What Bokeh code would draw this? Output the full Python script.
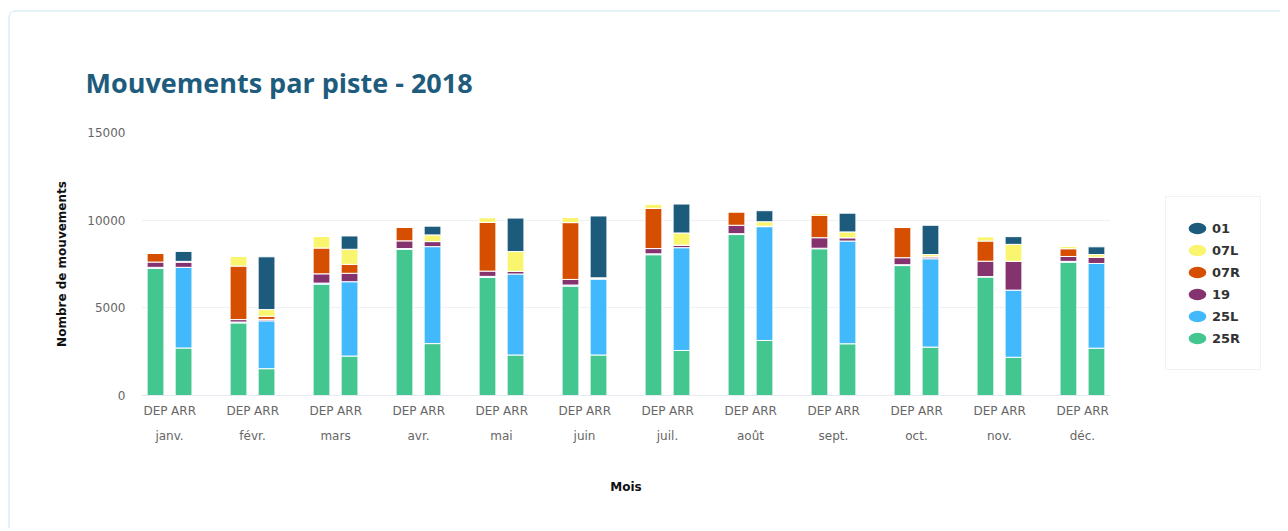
from bokeh.plotting import figure
from bokeh.layouts import row
from bokeh.models import ColumnDataSource, FactorRange, Range1d, Legend, LegendItem, SingleIntervalTicker
from bokeh.embed import file_html
from bokeh.resources import INLINE

months = ["janv.", "févr.", "mars", "avr.", "mai", "juin",
          "juil.", "août", "sept.", "oct.", "nov.", "déc."]
directions = ["DEP", "ARR"]
runways = ["25R", "25L", "19", "07R", "07L", "01"]
colors = ["#43c690", "#41b9fc", "#85336f", "#d64e00", "#f9f56f", "#1c5b7b"]

# Departures per runway, by month
dep_25R = [7250, 4140, 6350, 8340, 6735, 6240, 8030, 9180, 8370, 7410, 6760, 7600]
dep_25L = [60, 50, 60, 40, 60, 60, 50, 50, 30, 50, 20, 50]
dep_19 = [300, 140, 530, 440, 300, 320, 300, 480, 600, 400, 880, 280]
dep_07R = [500, 3050, 1470, 780, 2780, 3240, 2290, 770, 1280, 1720, 1150, 440]
dep_07L = [0, 570, 670, 0, 270, 300, 250, 0, 120, 0, 250, 130]
dep_01 = [0, 0, 0, 0, 0, 0, 0, 0, 0, 0, 0, 0]

# Arrivals per runway, by month
arr_25R = [2710, 1530, 2250, 2960, 2310, 2310, 2570, 3140, 2950, 2760, 2180, 2700]
arr_25L = [4600, 2730, 4240, 5530, 4620, 4330, 5860, 6490, 5860, 5040, 3830, 4830]
arr_19 = [300, 80, 480, 290, 150, 40, 150, 30, 190, 110, 1650, 360]
arr_07R = [20, 180, 510, 0, 0, 0, 0, 0, 0, 0, 0, 0]
arr_07L = [20, 380, 860, 380, 1130, 30, 690, 250, 330, 130, 960, 150]
arr_01 = [570, 3010, 760, 500, 1910, 3530, 1650, 630, 1070, 1670, 440, 440]

dep = {"25R": dep_25R, "25L": dep_25L, "19": dep_19, "07R": dep_07R, "07L": dep_07L, "01": dep_01}
arr = {"25R": arr_25R, "25L": arr_25L, "19": arr_19, "07R": arr_07R, "07L": arr_07L, "01": arr_01}

factors = [(m, d) for m in months for d in directions]
data = {"x": factors}
for r in runways:
    col = []
    for i in range(len(months)):
        col.append(dep[r][i])
        col.append(arr[r][i])
    data[r] = col
source = ColumnDataSource(data)

FONT = "DejaVu Sans"
H = 516

p = figure(
    x_range=FactorRange(*factors, group_padding=0.96, range_padding=0),
    y_range=Range1d(0, 15000),
    width=1110, height=H,
    output_backend="svg", toolbar_location=None, tools="",
    min_border_left=131, min_border_right=10,
    min_border_top=120, min_border_bottom=133,
)

p.vbar_stack(runways, x="x", width=0.6, color=colors, source=source,
             line_color="white", line_width=1)

# title
p.title.text = "Mouvements par piste - 2018"
p.title.text_font = "Open Sans"
p.title.text_font_style = "bold"
p.title.text_font_size = "27px"
p.title.text_color = "#1e5c7d"
p.title.align = "left"
p.title.offset = -56
p.title.standoff = 64

p.outline_line_color = None
p.background_fill_color = "white"
p.border_fill_color = "white"
p.xgrid.grid_line_color = None
p.ygrid.grid_line_color = "#eef0f6"
p.ygrid.grid_line_width = 1

p.yaxis.ticker = SingleIntervalTicker(interval=5000)
p.yaxis.axis_label = "Nombre de mouvements"
p.yaxis.axis_label_text_font = FONT
p.yaxis.axis_label_text_font_style = "bold"
p.yaxis.axis_label_text_font_size = "12px"
p.yaxis.axis_label_text_color = "#111111"
p.yaxis.axis_label_standoff = 15
p.yaxis.axis_line_color = None
p.yaxis.major_tick_line_color = None
p.yaxis.major_tick_out = 0
p.yaxis.major_tick_in = 0
p.yaxis.minor_tick_line_color = None
p.yaxis.major_label_standoff = 12
p.yaxis.major_label_text_font = FONT
p.yaxis.major_label_text_font_size = "12px"
p.yaxis.major_label_text_color = "#666666"

p.xaxis.axis_label = "Mois"
p.xaxis.axis_label_text_font = FONT
p.xaxis.axis_label_text_font_style = "bold"
p.xaxis.axis_label_text_font_size = "12px"
p.xaxis.axis_label_text_color = "#111111"
p.xaxis.axis_label_standoff = 34
p.xaxis.axis_line_color = "#e6eaf1"
p.xaxis.major_tick_line_color = None
p.xaxis.major_tick_out = 0
p.xaxis.major_tick_in = 0
p.xaxis.minor_tick_line_color = None
p.xaxis.major_label_standoff = 8
p.xaxis.major_label_text_font = FONT
p.xaxis.major_label_text_font_size = "12px"
p.xaxis.major_label_text_color = "#666666"
p.xaxis.group_text_font = FONT
p.xaxis.group_text_font_size = "12px"
p.xaxis.group_text_font_style = "normal"
p.xaxis.group_text_color = "#666666"
p.xaxis.group_label_orientation = "horizontal"
p.xaxis.separator_line_color = None

# legend panel (separate figure to the right of the plot)
q = figure(x_range=Range1d(0, 1), y_range=Range1d(0, 1), width=160, height=H,
           output_backend="svg", toolbar_location=None, tools="",
           min_border_left=0, min_border_right=0, min_border_top=0, min_border_bottom=0)
q.axis.visible = False
q.grid.grid_line_color = None
q.outline_line_color = None
q.background_fill_color = "white"
q.border_fill_color = "white"

items = []
for r, c in reversed(list(zip(runways, colors))):
    g = q.ellipse(x=[-10], y=[-10], width=17, height=11,
                  width_units="screen", height_units="screen",
                  fill_color=c, line_color=None)
    items.append(LegendItem(label=r, renderers=[g]))

legend = Legend(items=items, location=(45, 25),
                glyph_width=22, glyph_height=22, label_height=20, spacing=0,
                padding=20, label_standoff=4, margin=0,
                label_text_font=FONT, label_text_font_style="bold",
                label_text_font_size="13px", label_text_color="#333333",
                border_line_color="#e6e6e6", background_fill_color="white")
q.add_layout(legend)

layout = row(p, q)
layout.styles = {"border-left": "2px solid #e4f1f7", "border-top": "2px solid #e4f1f7",
                 "border-top-left-radius": "8px", "margin-left": "8px", "margin-top": "10px"}

open("out.html", "w").write(file_html(layout, INLINE))
